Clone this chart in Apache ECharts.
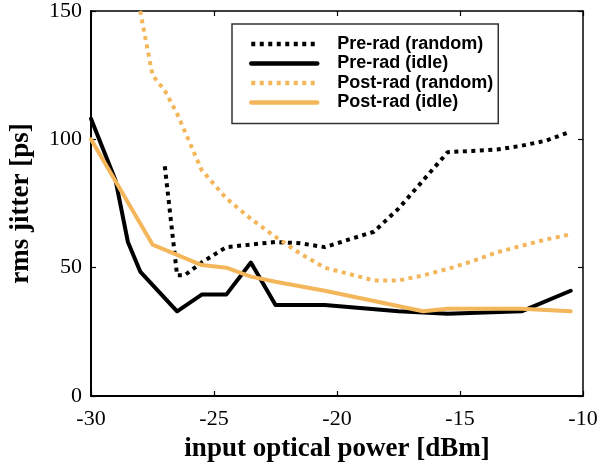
<!DOCTYPE html>
<html>
<head>
<meta charset="utf-8">
<script src="https://cdn.jsdelivr.net/npm/echarts@6/dist/echarts.min.js"></script>
<style>
  html, body { margin: 0; padding: 0; background: #fff; }
  #chart { width: 604px; height: 470px; }
</style>
</head>
<body>
<div id="chart"></div>
<script>
// ---- data ----
var seriesNames = ['Pre-rad (random)', 'Pre-rad (idle)', 'Post-rad (random)', 'Post-rad (idle)'];

var preRandomX = [-27, -26.5, -26.2, -25.5, -24.5, -23.5, -22.5, -21.5, -20.5, -19.5, -18.5, -17.5, -16.5, -15.5, -14.5, -13.5, -12.5, -11.5, -10.5];
var preRandomY = [89.5, 47, 47, 52, 58, 59, 60, 59.5, 58, 61, 64, 73, 84, 95, 95.5, 96, 97.5, 99.5, 103];

var preIdleX = [-30, -29, -28.5, -28, -26.5, -25.5, -24.5, -23.5, -22.5, -20.5, -17.5, -15.5, -12.5, -10.5];
var preIdleY = [108, 84, 60, 48.5, 33, 39.5, 39.5, 52, 35.5, 35.5, 33, 32, 33, 41];

var postRandomX = [-28, -27.5, -27, -26.5, -26, -25.5, -24.5, -23.5, -22.5, -21.5, -20.5, -19.5, -18.5, -17.5, -16.5, -15.5, -14.5, -13.5, -12.5, -11.5, -10.5];
var postRandomY = [150, 125, 119, 110, 99, 88, 77, 69, 62, 55.5, 50, 47.5, 45, 45, 47, 49.5, 52.5, 56, 58.5, 61, 63];

var postIdleX = [-30, -27.5, -25.5, -24.5, -23.5, -22.5, -20.5, -18.5, -16.5, -15.5, -12.5, -10.5];
var postIdleY = [100, 59, 51, 50, 46.5, 44.5, 41, 37, 33, 34, 34, 33];

var xTicks = [-30, -25, -20, -15, -10];
var yTicks = [0, 50, 100, 150];

function zip(xs, ys) {
  return xs.map(function (x, i) { return [x, ys[i]]; });
}

var BLACK = '#000000';
var ORANGE = '#F4B65A';
var serif = '"Liberation Serif", "Times New Roman", serif';
var sans = '"Liberation Sans", Arial, sans-serif';

var chart = echarts.init(document.getElementById('chart'), null, { renderer: 'canvas' });

function mkX(pos, showLabel) {
  return {
    type: 'value', position: pos,
    min: xTicks[0], max: xTicks[xTicks.length - 1], interval: 5,
    axisLine: { show: true, onZero: false, lineStyle: { color: BLACK, width: pos === 'bottom' ? 2 : 1.5 } },
    axisTick: { show: true, inside: true, length: 5, lineStyle: { color: BLACK, width: 1.2 } },
    axisLabel: { show: showLabel, color: BLACK, fontFamily: serif, fontSize: 22, margin: 12 },
    splitLine: { show: false },
    name: showLabel ? 'input optical power [dBm]' : '',
    nameLocation: 'middle', nameGap: 40,
    nameTextStyle: { color: BLACK, fontFamily: serif, fontWeight: 'bold', fontSize: 27 }
  };
}
function mkY(pos, showLabel) {
  return {
    type: 'value', position: pos,
    min: yTicks[0], max: yTicks[yTicks.length - 1], interval: 50,
    axisLine: { show: true, onZero: false, lineStyle: { color: BLACK, width: pos === 'left' ? 2 : 1.5 } },
    axisTick: { show: true, inside: true, length: 5, lineStyle: { color: BLACK, width: 1.2 } },
    axisLabel: { show: showLabel, color: BLACK, fontFamily: serif, fontSize: 22, margin: 9 },
    splitLine: { show: false },
    name: showLabel ? 'rms jitter [ps]' : '',
    nameLocation: 'middle', nameGap: 56,
    nameTextStyle: { color: BLACK, fontFamily: serif, fontWeight: 'bold', fontSize: 27 }
  };
}

function line(name, xs, ys, color, dotted) {
  return {
    name: name, type: 'line', xAxisIndex: 0, yAxisIndex: 0,
    data: zip(xs, ys),
    symbol: 'none', showSymbol: false, clip: true,
    lineStyle: {
      color: color, width: 4,
      type: dotted ? [4, 4.5] : 'solid',
      cap: dotted ? 'butt' : 'round', join: 'round'
    },
    itemStyle: { color: color },
    emphasis: { disabled: true },
    animation: false
  };
}

chart.setOption({
  animation: false,
  backgroundColor: '#ffffff',
  grid: { left: 89, right: 21, top: 6, bottom: 74, containLabel: false },
  legend: {
    show: true, orient: 'vertical',
    left: 232, top: 24,
    padding: [11, 5, 12, 17],
    itemWidth: 66, itemHeight: 14, itemGap: 1.5,
    borderColor: '#333', borderWidth: 1.5, borderRadius: 0,
    backgroundColor: '#fff',
    itemStyle: { opacity: 0, color: 'rgba(0,0,0,0)', borderWidth: 0 },
    lineStyle: { width: 4.5 },
    textStyle: { color: BLACK, fontFamily: sans, fontWeight: 'bold', fontSize: 18, lineHeight: 16, padding: [0, 0, 0, 15] },
    data: seriesNames,
    selectedMode: false
  },
  xAxis: [mkX('bottom', true), mkX('top', false)],
  yAxis: [mkY('left', true), mkY('right', false)],
  series: [
    line(seriesNames[0], preRandomX, preRandomY, BLACK, true),
    line(seriesNames[1], preIdleX, preIdleY, BLACK, false),
    line(seriesNames[2], postRandomX, postRandomY, ORANGE, true),
    line(seriesNames[3], postIdleX, postIdleY, ORANGE, false)
  ]
});
</script>
</body>
</html>
